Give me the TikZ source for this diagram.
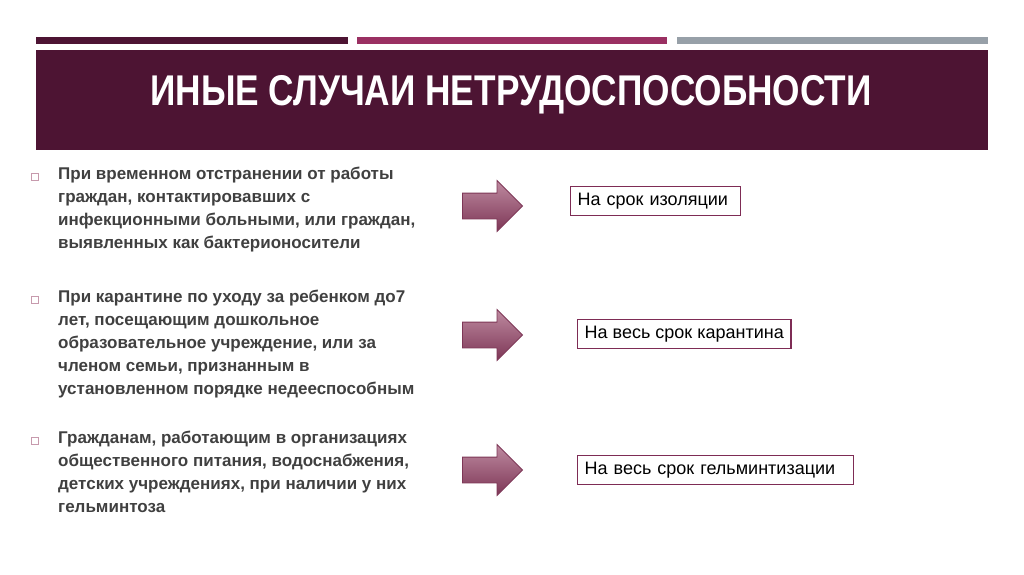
\documentclass[tikz,border=0pt]{standalone}
\usepackage{fontspec}
\setmainfont{Liberation Sans}
\usepackage{xcolor}
\usetikzlibrary{shapes.arrows, positioning}
\definecolor{wine}{HTML}{4D1433}
\definecolor{berry}{HTML}{9A3062}
\definecolor{steel}{HTML}{97A0A8}
\definecolor{bodytext}{HTML}{404040}
\definecolor{boxline}{HTML}{7E2C55}
\definecolor{arrowtop}{HTML}{BE8AA0}
\definecolor{arrowbot}{HTML}{7D3656}
\definecolor{bulletline}{HTML}{C79AAD}

\tikzset{
  item/.style={anchor=north west, align=left, inner sep=0pt, text=bodytext,
    font=\fontsize{17}{23}\selectfont\bfseries},
  bullet/.style={draw=bulletline, line width=0.8pt, minimum size=7pt, inner sep=0pt},
  blockarrow/.style={single arrow, draw=arrowbot, line width=0.8pt,
    top color=arrowtop, bottom color=arrowbot, inner xsep=0pt, inner ysep=12.5pt,
    minimum height=60pt, minimum width=50pt, single arrow head extend=12.5pt,
    single arrow head indent=0pt},
  result/.style={draw=boxline, line width=1.4pt, anchor=west, inner xsep=7pt,
    minimum height=29pt, align=left, font=\fontsize{18}{20}\selectfont}
}

\begin{document}
\begin{tikzpicture}[x=1pt, y=-1pt]
  \useasboundingbox[fill=white] (0,0) rectangle (1024,574);
  % strips over the header
  \foreach \col/\xa/\xb in {wine/36/348, berry/357/667, steel/677/988} {
    \fill[\col] (\xa,37) rectangle (\xb,44);
  }
  \fill[wine] (36,50) rectangle (988,150);
  \node[text=white, font=\fontsize{43}{45}\selectfont\bfseries] (title) at (511,95)
    {\scalebox{0.82}[1]{ИНЫЕ СЛУЧАИ НЕТРУДОСПОСОБНОСТИ}};

  % cases
  \node[item] (case1) at (58,167) {При временном отстранении от работы\\
    граждан, контактировавших с\\
    инфекционными больными, или граждан,\\
    выявленных как бактерионосители};
  \node[item] (case2) at (58,290) {При карантине по уходу за ребенком до7\\
    лет, посещающим дошкольное\\
    образовательное учреждение, или за\\
    членом семьи, признанным в\\
    установленном порядке недееспособным};
  \node[item] (case3) at (58,431) {Гражданам, работающим в организациях\\
    общественного питания, водоснабжения,\\
    детских учреждениях, при наличии у них\\
    гельминтоза};

  \node[bullet] (dot1) at (35,177) {};
  \node[bullet] (dot2) at (35,300) {};
  \node[bullet] (dot3) at (35,441) {};

  % arrows and terms
  \node[blockarrow] (arr1) at (486,206) {};
  \node[blockarrow] (arr2) at (486,335) {};
  \node[blockarrow] (arr3) at (486,470) {};

  \node[result, text width=156pt] (term1) at (570,201) {На срок изоляции};
  \node[result] (term2) at (577,334) {На весь срок карантина};
  \node[result, text width=262pt] (term3) at (577,470) {На весь срок гельминтизации};
\end{tikzpicture}
\end{document}
